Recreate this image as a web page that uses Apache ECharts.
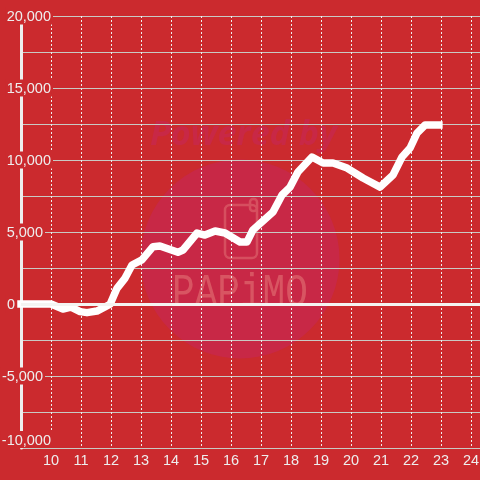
<!DOCTYPE html>
<html>
<head>
<meta charset="utf-8">
<style>
  html, body { margin: 0; padding: 0; background: #cb2a2e; }
  #chart { width: 480px; height: 480px; }
</style>
<script src="https://cdn.jsdelivr.net/npm/echarts@6/dist/echarts.min.js"></script>
</head>
<body>
<div id="chart"></div>
<script>
const hours = [9, 10, 10.4, 10.67, 10.97, 11.2, 11.53, 11.97, 12.2, 12.47, 12.7, 13.03, 13.4, 13.63,
    14.23, 14.4, 14.87, 15.13, 15.47, 15.8, 16.3, 16.53, 16.73, 17.4, 17.7, 17.97, 18.23, 18.7,
    19.07, 19.4, 19.87, 20.4, 20.97, 21.4, 21.7, 21.97, 22.2, 22.47, 22.93];
const balance = [0, 0, -350, -220, -530, -600, -490, -20, 1090, 1800, 2710, 3060, 3980, 4030,
    3590, 3750, 4930, 4790, 5070, 4930, 4300, 4300, 5140, 6390, 7570, 8120, 9170, 10210,
    9790, 9790, 9440, 8750, 8120, 8960, 10210, 10830, 11870, 12430, 12430];
const yTickLabels = {
    '20000': '20,000',
    '15000': '15,000',
    '10000': '10,000',
    '5000': '5,000',
    '0': '0',
    '-5000': '-5,000',
    '-10000': '-10,000'
};
const yLabelGaps = { '5000': 'g8', '-5000': 'g8', '0': 'g36' };

const red = '#cb2a2e';
const pale = '#eeeeee';
const font = '"Liberation Sans", Arial, sans-serif';

const chart = echarts.init(document.getElementById('chart'));

chart.setOption({
    animation: false,
    backgroundColor: red,
    grid: { left: 21, right: 0, top: 16, bottom: 32, outerBoundsMode: 'none' },
    xAxis: {
        type: 'value',
        min: 9,
        max: 24.3,
        interval: 1,
        axisLine: { show: false },
        axisTick: { show: false },
        axisLabel: {
            color: pale,
            fontFamily: font,
            fontSize: 14.5,
            margin: 5,
            formatter: (v) => (Number.isInteger(v) && v > 9 ? String(v) : '')
        },
        splitLine: { show: true, lineStyle: { color: pale, width: 1, type: [2, 2] } }
    },
    yAxis: {
        type: 'value',
        min: -10000,
        max: 20000,
        interval: 2500,
        axisLine: { show: true, onZero: false, lineStyle: { color: pale, width: 3 } },
        axisTick: { show: false },
        axisLabel: {
            align: 'right',
            margin: -32,
            verticalAlignMinLabel: 'bottom',
            formatter: (v) => {
                const label = yTickLabels[v];
                if (!label) return '';
                const gap = yLabelGaps[v];
                return '{t|' + label + '}' + (gap ? '{' + gap + '| }' : '');
            },
            rich: {
                t: { color: pale, fontFamily: font, fontSize: 14.5, backgroundColor: red, padding: [2, 2, 0, 1] },
                g8: { width: 8, fontSize: 14.5 },
                g36: { width: 36, fontSize: 14.5 }
            }
        },
        splitLine: { show: true, lineStyle: { color: '#c9c9c4', width: 1 } }
    },
    graphic: [
        {
            type: 'circle',
            z: -1,
            shape: { cx: 240, cy: 259, r: 99.5 },
            style: { fill: '#c82846' }
        },
        {
            type: 'text',
            z: -1,
            x: 150,
            y: 118,
            style: {
                text: 'Powered by',
                font: 'italic bold 34px "Open Sans"',
                fill: '#c82846'
            }
        },
        {
            type: 'rect',
            z: -1,
            shape: { x: 225, y: 205, width: 32, height: 53, r: 5 },
            style: { fill: 'none', stroke: '#d64f5f', lineWidth: 2.5 }
        },
        {
            type: 'rect',
            z: -1,
            shape: { x: 250, y: 199, width: 7, height: 12, r: 3 },
            style: { fill: 'none', stroke: '#d64f5f', lineWidth: 2.5 }
        },
        {
            type: 'text',
            z: -1,
            x: 172,
            y: 271,
            scaleX: 0.82,
            style: {
                text: 'PAPiMO',
                font: '46px "Liberation Mono"',
                fill: '#d85562'
            }
        }
    ],
    series: [
        {
            type: 'line',
            data: hours.map((h, i) => [h, balance[i]]),
            showSymbol: false,
            symbol: 'none',
            clip: false,
            lineStyle: { color: '#ffffff', width: 7.5, cap: 'square', join: 'round' },
            markLine: {
                silent: true,
                symbol: 'none',
                label: { show: false },
                lineStyle: { color: '#f4f4f2', width: 3, type: 'solid' },
                data: [{ yAxis: 0 }]
            }
        }
    ]
});
</script>
</body>
</html>
